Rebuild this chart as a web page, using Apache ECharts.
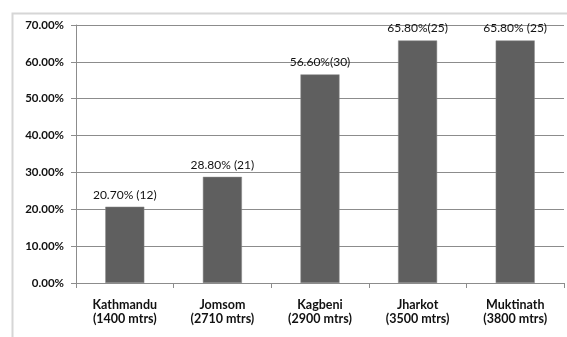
<!DOCTYPE html>
<html><head><meta charset="utf-8">
<script src="https://cdn.jsdelivr.net/npm/echarts@6/dist/echarts.min.js"></script>
<style>html,body{margin:0;padding:0;background:#fff}#c{width:567px;height:337px}</style>
</head><body><div id="c"></div>
<script>
const categories = ['Kathmandu\n(1400 mtrs)', 'Jomsom\n(2710 mtrs)', 'Kagbeni\n(2900 mtrs)', 'Jharkot\n(3500 mtrs)', 'Muktinath\n(3800 mtrs)'];
const values = [20.7, 28.8, 56.6, 65.8, 65.8];
const barLabels = ['20.70% (12)', '28.80% (21)', '56.60%(30)', '65.80%(25)', '65.80% (25)'];
const yTicks = [0, 10, 20, 30, 40, 50, 60, 70];

const chart = echarts.init(document.getElementById('c'), null, {renderer: 'canvas'});
chart.setOption({
  animation: false,
  graphic: [{type: 'rect', left: 10, top: 11, shape: {width: 620, height: 400}, style: {fill: 'none', stroke: '#d6d6d6', lineWidth: 2}, z: -1}],
  grid: {left: 76, right: 3, top: 25, bottom: 54, containLabel: false},
  xAxis: {
    type: 'category', data: categories,
    axisLine: {lineStyle: {color: '#8c8c8c', width: 1}},
    axisTick: {show: true, length: 5, alignWithLabel: false, lineStyle: {color: '#8c8c8c'}},
    axisLabel: {color: '#111', fontFamily: 'Lato', fontWeight: 'bold', fontSize: 12.5, lineHeight: 14, margin: 15, interval: 0}
  },
  yAxis: {
    type: 'value', min: yTicks[0], max: yTicks[yTicks.length - 1], interval: 10,
    axisLine: {show: true, lineStyle: {color: '#8c8c8c'}},
    axisTick: {show: true, length: 5, lineStyle: {color: '#8c8c8c'}},
    splitLine: {lineStyle: {color: '#8c8c8c', width: 1}},
    axisLabel: {color: '#111', fontFamily: 'Lato', fontWeight: 'bold', fontSize: 11.5, margin: 12,
      formatter: v => v.toFixed(2) + '%'}
  },
  series: [{
    type: 'bar', data: values, barWidth: '40%',
    itemStyle: {color: '#5f5f5f', borderColor: '#8a8a8a', borderWidth: 0.5},
    label: {show: true, position: 'top', distance: 6, color: '#111', fontFamily: 'Lato', fontSize: 12,
      formatter: p => barLabels[p.dataIndex]}
  }]
});
</script></body></html>
